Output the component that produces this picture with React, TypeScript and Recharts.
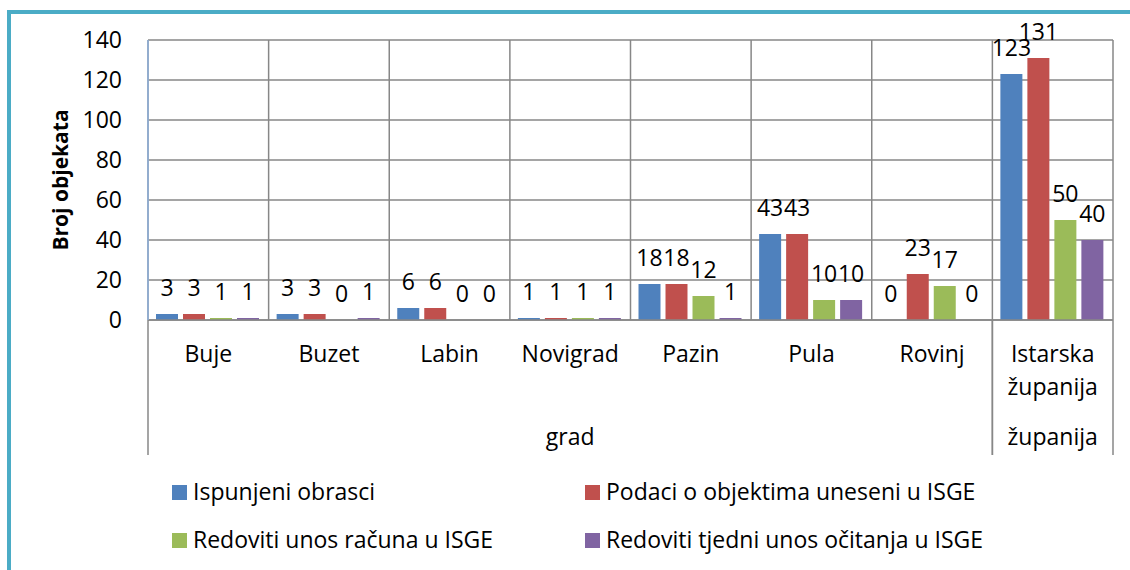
import React from 'react';
import { BarChart, Bar, XAxis, YAxis, CartesianGrid, Legend, LabelList } from 'recharts';

const categories = ['Buje', 'Buzet', 'Labin', 'Novigrad', 'Pazin', 'Pula', 'Rovinj', 'Istarska županija'];
const ispunjeni = [3, 3, 6, 1, 18, 43, 0, 123];
const podaci = [3, 3, 6, 1, 18, 43, 23, 131];
const racuni = [1, 0, 0, 1, 12, 10, 17, 50];
const ocitanja = [1, 1, 0, 1, 1, 10, 0, 40];
const seriesNames = [
  'Ispunjeni obrasci',
  'Podaci o objektima uneseni u ISGE',
  'Redoviti unos računa u ISGE',
  'Redoviti tjedni unos očitanja u ISGE',
];
const seriesKeys = ['ispunjeni', 'podaci', 'racuni', 'ocitanja'];
const seriesColors = ['#4F81BD', '#C0504D', '#9BBB59', '#8064A2'];
const groups = [
  { name: 'grad', start: 0, end: 6 },
  { name: 'županija', start: 7, end: 7 },
];
const yTicks = [0, 20, 40, 60, 80, 100, 120, 140];
const yTitle = 'Broj objekata';

const data = categories.map((name, i) => ({
  name,
  ispunjeni: ispunjeni[i],
  podaci: podaci[i],
  racuni: racuni[i],
  ocitanja: ocitanja[i],
}));

const W = 1130;
const H = 570;
const MARGIN = { top: 40, right: 17, left: 88, bottom: 110 };
const Y_AXIS_W = 60;
const X_AXIS_H = 140;
const FONT = '"Open Sans", sans-serif';
const FS = 23;
const GRID = '#878787';

function CategoryTick(props: any) {
  const { x, y, payload } = props;
  const index = payload && payload.index != null ? payload.index : props.index;
  const band = (W - MARGIN.left - Y_AXIS_W - MARGIN.right) / categories.length;
  const label = String(payload.value);
  const lines = label.includes(' ') ? label.split(' ') : [label];
  const out: any[] = [];
  lines.forEach((ln, k) => {
    out.push(
      <text key={'l' + k} x={x} y={y + 42 + k * 33} textAnchor="middle" fontSize={FS} fill="#000" fontFamily={FONT}>
        {ln}
      </text>
    );
  });
  groups.forEach((g, gi) => {
    if (index === g.start) {
      out.push(<line key={'s' + gi} x1={x - band / 2} x2={x - band / 2} y1={y} y2={y + 135} stroke={GRID} strokeWidth={1.5} />);
    }
    if (index === g.end) {
      out.push(<line key={'e' + gi} x1={x + band / 2} x2={x + band / 2} y1={y} y2={y + 135} stroke={GRID} strokeWidth={1.5} />);
    }
    if (index === Math.floor((g.start + g.end) / 2)) {
      out.push(
        <text key={'g' + gi} x={x} y={y + 125} textAnchor="middle" fontSize={FS} fill="#000" fontFamily={FONT}>
          {g.name}
        </text>
      );
    }
  });
  return <g>{out}</g>;
}

function LegendContent(props: any) {
  const items = (props.payload || []).slice().sort(
    (a: any, b: any) => seriesNames.indexOf(a.value) - seriesNames.indexOf(b.value)
  );
  return (
    <svg width={W} height={90} style={{ display: 'block' }}>
      {items.map((it: any, i: number) => {
        const col = i % 2;
        const row = Math.floor(i / 2);
        const x = col === 0 ? 172 : 585;
        const y = row === 0 ? 15 : 63;
        return (
          <g key={i}>
            <rect x={x} y={y} width={15} height={15} fill={it.color} />
            <text x={x + 21} y={y + 15} fontSize={FS} fontFamily={FONT} fill="#000">
              {it.value}
            </text>
          </g>
        );
      })}
    </svg>
  );
}

function YTitle(p: any) {
  const vb = p.viewBox || { y: MARGIN.top, height: 280 };
  const cx = 60;
  const cy = vb.y + vb.height / 2;
  return (
    <text
      x={cx}
      y={cy}
      transform={`rotate(-90 ${cx} ${cy})`}
      textAnchor="middle"
      dominantBaseline="central"
      fontWeight="bold"
      fontSize={21}
      fontFamily={FONT}
      fill="#000"
    >
      {yTitle}
    </text>
  );
}

export default function App() {
  return (
    <div style={{ position: 'absolute', left: 0, top: 0, width: W, height: H, overflow: 'hidden', background: '#fff' }}>
      <div
        style={{
          position: 'absolute',
          left: 7,
          top: 10,
          width: 1300,
          height: 800,
          border: '4px solid #4BACC6',
          boxSizing: 'border-box',
        }}
      />
      <div style={{ position: 'absolute', left: 0, top: 0 }}>
        <BarChart width={W} height={H} data={data} margin={MARGIN} barCategoryGap={8} barGap={5}>
          <CartesianGrid
            stroke={GRID}
            strokeWidth={1.5}
            horizontal={true}
            vertical={true}
            verticalCoordinatesGenerator={(args: any) => {
              const off = args && args.offset ? args.offset : { left: MARGIN.left + Y_AXIS_W, width: W - MARGIN.left - Y_AXIS_W - MARGIN.right };
              return categories.map((_, i) => off.left + (i * off.width) / categories.length).concat([off.left + off.width]);
            }}
          />
          <XAxis
            dataKey="name"
            interval={0}
            height={X_AXIS_H}
            tickLine={false}
            tickSize={0}
            tickMargin={0}
            axisLine={{ stroke: GRID, strokeWidth: 1.5 }}
            tick={<CategoryTick />}
          />
          <YAxis
            width={Y_AXIS_W}
            domain={[0, 140]}
            ticks={yTicks}
            interval={0}
            tickLine={false}
            tickSize={0}
            tickMargin={26}
            axisLine={{ stroke: '#8EB0DC', strokeWidth: 1.5 }}
            tick={{ fontSize: FS, fill: '#000', fontFamily: FONT }}
            label={{ value: yTitle, content: <YTitle /> }}
          />
          <Legend
            layout="horizontal"
            verticalAlign="middle"
            align="center"
            wrapperStyle={{ left: 0, top: 470, width: W, height: 90 }}
            content={<LegendContent />}
          />
          {seriesKeys.map((k, i) => (
            <Bar
              key={k}
              dataKey={k}
              name={seriesNames[i]}
              fill={seriesColors[i]}
              minPointSize={0.01}
              isAnimationActive={false}
            >
              <LabelList dataKey={k} position="top" offset={18} fontSize={FS} fill="#000" fontFamily={FONT} />
            </Bar>
          ))}
        </BarChart>
      </div>
    </div>
  );
}
